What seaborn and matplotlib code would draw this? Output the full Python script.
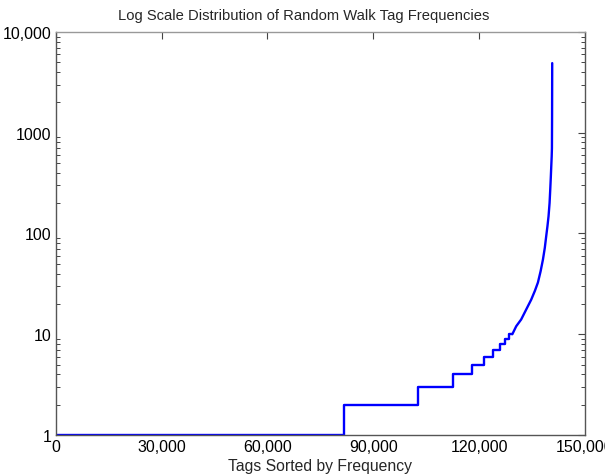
import numpy as np
import pandas as pd
import matplotlib
matplotlib.use("Agg")
import matplotlib.pyplot as plt
import seaborn as sns

# Step part of the rank/frequency curve (rank where each frequency level starts)
step_ranks = [0, 81600, 102800, 112500, 118000, 121500, 124000, 125900, 127300, 128500, 129400]
step_freqs = [1, 2, 3, 4, 5, 6, 7, 8, 9, 10, 10]

# Smooth tail of the curve
tail_ranks = [129400, 130500, 131900, 133300, 134740, 135800, 136650, 137400, 138070,
              138600, 139000, 139350, 139660, 139950, 140140, 140300, 140430, 140550,
              140620, 140660, 140700]
tail_freqs = [10, 12, 14, 17.5, 22, 27, 32.6, 42, 55, 72, 94, 118, 148, 200, 272, 360,
              463, 580, 700, 1400, 4900]

x_ticks = [0, 30000, 60000, 90000, 120000, 150000]
x_tick_labels = ["0", "30,000", "60,000", "90,000", "120,000", "150,000"]
y_ticks = [1, 10, 100, 1000, 10000]
y_tick_labels = ["1", "10", "100", "1000", "10,000"]

sns.set_style("white")
plt.rcParams["font.family"] = ["Liberation Sans", "DejaVu Sans"]

fig = plt.figure(figsize=(6.05, 4.77), dpi=100)
ax = fig.add_axes([0.092, 0.086, 0.875, 0.845])

step_df = pd.DataFrame({"rank": step_ranks, "freq": step_freqs})
tail_df = pd.DataFrame({"rank": tail_ranks, "freq": tail_freqs})
sns.lineplot(data=step_df, x="rank", y="freq", ax=ax, color="#0000ff", lw=1.7,
             drawstyle="steps-post", sort=False, estimator=None)
sns.lineplot(data=tail_df, x="rank", y="freq", ax=ax, color="#0000ff", lw=1.7,
             sort=False, estimator=None)

ax.set_yscale("log")
ax.set_xlim(0, 150000)
ax.set_ylim(1, 10000)
ax.set_xticks(x_ticks)
ax.set_xticklabels(x_tick_labels)
ax.set_yticks(y_ticks)
ax.set_yticklabels(y_tick_labels)
ax.yaxis.set_minor_locator(matplotlib.ticker.LogLocator(base=10, subs=np.arange(2, 10)))
ax.yaxis.set_minor_formatter(matplotlib.ticker.NullFormatter())

ax.tick_params(axis="both", which="major", direction="in", length=5, width=0.8,
               top=True, right=True, labelsize=11.5, pad=3, colors="#444444",
               labelcolor="black")
ax.tick_params(axis="y", which="minor", direction="in", length=3, width=0.7,
               left=True, right=True, colors="#444444")
for s in ax.spines.values():
    s.set_color("#555555")
    s.set_linewidth(1.0)
ax.spines["top"].set_color("#999999")

ax.set_xlabel("Tags Sorted by Frequency", fontsize=11.3, labelpad=3)
ax.set_ylabel("")
ax.set_title("Log Scale Distribution of Random Walk Tag Frequencies", fontsize=10.6,
             pad=9, x=0.468)

fig.savefig("out.png", dpi=100)
